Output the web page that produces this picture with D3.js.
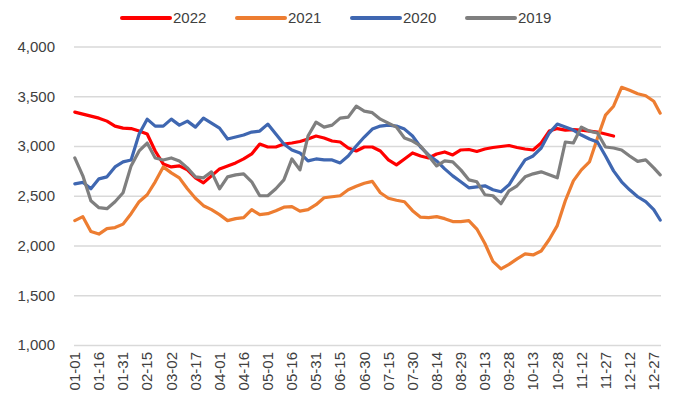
<!DOCTYPE html>
<html><head><meta charset="utf-8">
<script src="https://cdn.jsdelivr.net/npm/d3@7"></script>
<style>body{margin:0;background:#fff}svg{display:block;font-family:"Liberation Sans",Arial,sans-serif}</style>
</head><body><svg id="c" width="676" height="400"></svg>
<script>
const seriesNames = ["2022","2021","2020","2019"];
const seriesColors = ["#FF0000","#ED7D31","#3F67B1","#7F7F7F"];
const yTicks = [1000,1500,2000,2500,3000,3500,4000];
const tickLabels = ["01-01","01-16","01-31","02-15","03-02","03-17","04-01","04-16","05-01","05-16","05-31","06-15","06-30","07-15","07-30","08-14","08-29","09-13","09-28","10-13","10-28","11-12","11-27","12-12","12-27"];
// values sampled every 5 days (01-01, 01-06, ...) plus 12-31
const v2022 = [3340,3320,3300,3280,3250,3200,3180,3175,3150,3120,2950,2820,2790,2800,2760,2680,2630,2700,2770,2800,2830,2870,2920,3020,2990,2990,3020,3030,3045,3070,3100,3080,3050,3040,2980,2950,2990,2990,2950,2860,2810,2870,2930,2900,2880,2920,2940,2910,2960,2965,2945,2970,2985,2995,3005,2985,2970,2960,3030,3150,3175,3160,3165,3160,3150,3140,3120,3100];
const v2021 = [2250,2290,2140,2115,2170,2180,2215,2320,2440,2510,2640,2790,2730,2680,2570,2475,2400,2360,2310,2250,2270,2280,2360,2310,2320,2350,2385,2390,2345,2360,2410,2480,2490,2500,2560,2595,2625,2645,2530,2475,2455,2440,2350,2285,2280,2290,2270,2240,2240,2250,2165,2020,1840,1765,1810,1865,1915,1905,1945,2060,2200,2450,2650,2760,2840,3080,3310,3400,3590,3560,3525,3505,3450,3330];
const v2020 = [2620,2635,2570,2670,2690,2790,2840,2860,3120,3270,3200,3200,3270,3210,3250,3190,3280,3230,3180,3070,3090,3110,3140,3150,3220,3120,3020,2960,2930,2850,2870,2860,2860,2830,2900,3000,3090,3170,3200,3210,3200,3170,3100,2990,2910,2850,2770,2700,2640,2580,2590,2600,2560,2540,2610,2740,2860,2900,2980,3130,3220,3190,3160,3110,3070,3040,2900,2750,2640,2560,2490,2440,2360,2256];
const v2019 = [2880,2700,2450,2380,2370,2440,2530,2800,2950,3030,2880,2860,2880,2850,2780,2690,2680,2740,2570,2690,2710,2720,2640,2500,2500,2570,2660,2870,2760,3100,3240,3190,3210,3280,3290,3400,3350,3335,3270,3230,3190,3080,3050,3000,2900,2800,2850,2840,2760,2660,2640,2510,2500,2420,2550,2600,2690,2720,2740,2710,2680,3040,3030,3190,3150,3130,2990,2980,2960,2900,2845,2860,2780,2710];
const seriesValues = [v2022, v2021, v2020, v2019];

const fmt2 = n => String(n).padStart(2,"0");
const allDays = d3.range(365).map(i => { const d = new Date(2019,0,1+i); return fmt2(d.getMonth()+1)+"-"+fmt2(d.getDate()); });
const sampleDays = allDays.filter((d,i) => i%5===0 || i===364);

const svg = d3.select("#c");
const x = d3.scaleBand().domain(allDays).range([74,661]);
const xc = d => x(d) + x.bandwidth()/2;
const y = d3.scaleLinear().domain([1000,4000]).range([345,46.5]);

// gridlines + y labels
const yAxis = d3.axisLeft(y).tickValues(yTicks).tickSize(-(661-74)).tickPadding(19).tickFormat(d3.format(","));
const gy = svg.append("g").attr("transform","translate(74,0)").call(yAxis);
gy.select(".domain").remove();
gy.selectAll(".tick line").attr("stroke","#d9d9d9").attr("stroke-width",1.3);
gy.selectAll(".tick text").attr("fill","#404040").attr("font-size",15).attr("font-family","'Liberation Sans',Arial,sans-serif");

// x labels
const xAxis = d3.axisBottom(x).tickValues(tickLabels).tickSize(0).tickPadding(0);
const gx = svg.append("g").attr("transform","translate(0,345)").call(xAxis);
gx.select(".domain").remove();
gx.selectAll(".tick text").attr("fill","#404040").attr("font-size",15).attr("font-family","'Liberation Sans',Arial,sans-serif")
  .attr("transform","rotate(-90)").attr("text-anchor","end").attr("x",-7).attr("y",0).attr("dy","0.35em");

// lines
const line = d3.line().x((v,i) => xc(sampleDays[i])).y(v => y(v)).curve(d3.curveLinear);
seriesNames.forEach((n,k) => {
  svg.append("path").datum(seriesValues[k]).attr("fill","none").attr("stroke",seriesColors[k])
    .attr("stroke-width",3.2).attr("stroke-linejoin","round").attr("stroke-linecap","round").attr("d",line);
});

// legend
const lg = svg.append("g");
seriesNames.forEach((n,k) => {
  const x0 = 122 + k*115;
  lg.append("line").attr("x1",x0).attr("x2",x0+48).attr("y1",18).attr("y2",18).attr("stroke",seriesColors[k]).attr("stroke-width",4).attr("stroke-linecap","round");
  lg.append("text").attr("x",x0+51).attr("y",18).attr("dy","0.35em").attr("font-size",15).attr("fill","#404040").text(n);
});
</script></body></html>
